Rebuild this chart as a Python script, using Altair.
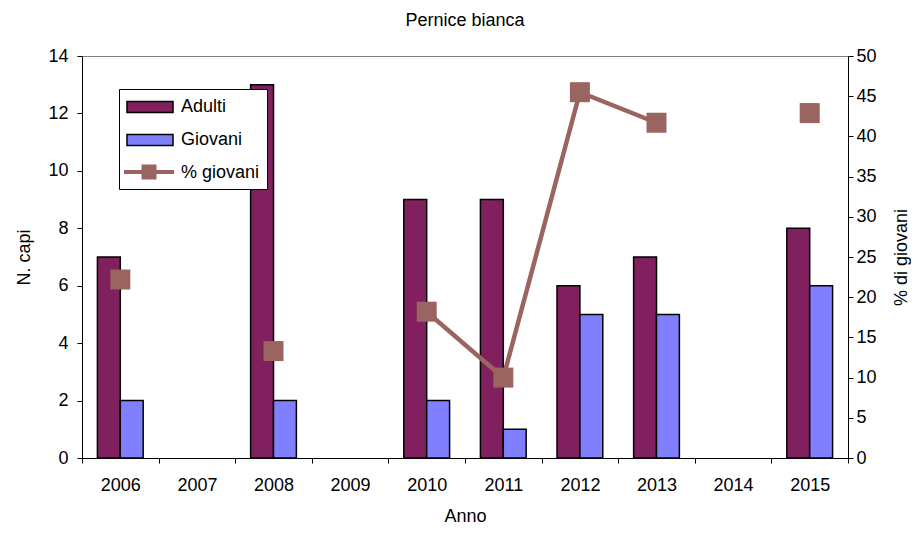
import altair as alt
import pandas as pd

# ---- data ----
anni = ["2006", "2007", "2008", "2009", "2010", "2011", "2012", "2013", "2014", "2015"]
adulti = [7, None, 13, None, 9, 9, 6, 7, None, 8]
giovani = [2, None, 2, None, 2, 1, 5, 5, None, 6]
perc_giovani = [22.2, None, 13.3, None, 18.2, 10.0, 45.5, 41.7, None, 42.9]
serie = ["Adulti", "Giovani", "% giovani"]
colori = ["#80205F", "#8080FF", "#9A6461"]
tick_sx = [0, 2, 4, 6, 8, 10, 12, 14]
tick_dx = [0, 5, 10, 15, 20, 25, 30, 35, 40, 45, 50]

FONT = "Liberation Sans"
LINE_COL = colori[2]

# ---- tables ----
bar_rows = []
for a, ad, gi in zip(anni, adulti, giovani):
    if ad is not None:
        bar_rows.append({"Anno": a, "Serie": "Adulti", "Valore": ad})
    if gi is not None:
        bar_rows.append({"Anno": a, "Serie": "Giovani", "Valore": gi})
bar_df = pd.DataFrame(bar_rows)

line_rows = []
seg = 0
prev_null = False
for a, p in zip(anni, perc_giovani):
    if p is None:
        if not prev_null:
            seg += 1
        prev_null = True
        continue
    prev_null = False
    line_rows.append({"Anno": a, "Serie": "% giovani", "Perc": p, "Seg": seg})
line_df = pd.DataFrame(line_rows)

x_enc = alt.X(
    "Anno:N",
    sort=anni,
    scale=alt.Scale(domain=anni, paddingInner=0, paddingOuter=0),
    axis=alt.Axis(
        title="Anno",
        labelAngle=0,
        tickBand="extent",
        tickSize=5,
        labelPadding=13,
        titlePadding=13,
    ),
)

# main legend (box with three rows and their labels, bar-style symbols)
legend_bar = alt.Legend(
    title=None,
    orient="none",
    legendX=37,
    legendY=33,
    direction="vertical",
    strokeColor="black",
    fillColor="white",
    padding=7,
    rowPadding=13,
    symbolSize=400,
    symbolType="M-1,-0.55H3.6V0.55H-1Z",
    symbolStrokeColor="black",
    symbolStrokeWidth=1.5,
    symbolOpacity=1,
    labelOffset=33,
    labelFontSize=18,
    labelColor="black",
    labelLimit=0,
    zindex=0,
)

# overlay symbol (line + square marker) covering the third row's symbol
legend_line = alt.Legend(
    title=None,
    orient="none",
    legendX=42,
    legendY=104,
    direction="vertical",
    fillColor="white",
    padding=2,
    symbolSize=400,
    symbolType="M-1.2,-0.2H3.8V0.2H-1.2Z M0.55,-0.75H2.05V0.75H0.55Z",
    symbolStrokeWidth=0,
    symbolOpacity=1,
    labelOffset=0,
    labelFontSize=18,
    labelExpr="''",
    zindex=1,
)

bars = alt.Chart(bar_df).mark_bar(stroke="black", strokeWidth=1.5, opacity=1).encode(
    x=x_enc,
    xOffset=alt.XOffset(
        "Serie:N",
        sort=["Adulti", "Giovani"],
        scale=alt.Scale(domain=["Adulti", "Giovani"], paddingInner=0, paddingOuter=0.674),
    ),
    y=alt.Y(
        "Valore:Q",
        scale=alt.Scale(domain=[0, 14], nice=False),
        axis=alt.Axis(
            title="N. capi",
            values=tick_sx,
            tickSize=5,
            labelPadding=9,
            titlePadding=14,
        ),
    ),
    color=alt.Color("Serie:N", scale=alt.Scale(domain=serie, range=colori), legend=legend_bar),
)

y_dx = alt.Y(
    "Perc:Q",
    scale=alt.Scale(domain=[0, 50], nice=False),
    axis=alt.Axis(
        title="% di giovani",
        orient="right",
        values=tick_dx,
        tickSize=5,
        labelPadding=3,
        titlePadding=16,
        titleAngle=270,
        titleBaseline="top",
    ),
)

line = alt.Chart(line_df).mark_line(strokeWidth=4.5, color=LINE_COL).encode(
    x=alt.X("Anno:N", sort=anni),
    y=y_dx,
    detail="Seg:N",
)

points = alt.Chart(line_df).mark_point(shape="square", filled=True, size=400, opacity=1).encode(
    x=alt.X("Anno:N", sort=anni),
    y=y_dx,
    fill=alt.Fill(
        "Serie:N",
        scale=alt.Scale(domain=["% giovani"], range=[LINE_COL]),
        legend=legend_line,
    ),
)

right = alt.layer(line, points)

chart = (
    alt.layer(bars, right)
    .resolve_scale(y="independent")
    .properties(
        width=903,
        height=517,
        autosize=alt.AutoSizeParams(type="fit", contains="padding"),
        padding={"left": 7, "right": 0, "top": 4, "bottom": 0},
        title=alt.TitleParams(
            "Pernice bianca",
            fontSize=18,
            fontWeight="normal",
            offset=17,
            anchor="middle",
            color="black",
        ),
    )
    .configure(font=FONT)
    .configure_axis(
        labelFontSize=18,
        titleFontSize=18,
        titleFontWeight="normal",
        labelColor="black",
        titleColor="black",
        domainColor="black",
        tickColor="black",
        domainWidth=1,
        tickWidth=1,
        grid=False,
    )
    .configure_view(stroke="#808080", strokeWidth=1)
)

chart.save("out.html", embed_options={"renderer": "svg", "actions": False})
